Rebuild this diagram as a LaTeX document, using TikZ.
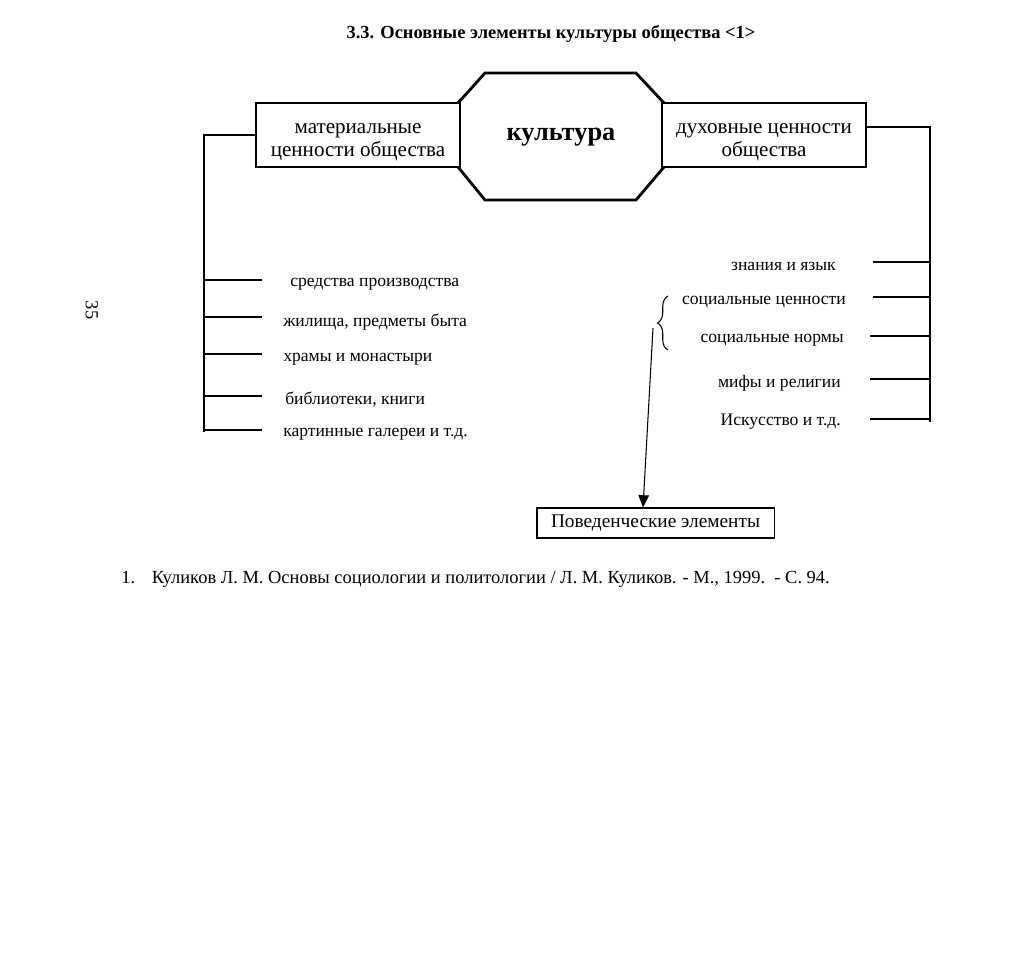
\documentclass[tikz,border=0pt]{standalone}
\usepackage{fontspec}
\setmainfont{Liberation Serif}
\usetikzlibrary{arrows.meta,decorations.pathreplacing}
\tikzset{
  bigbox/.style={draw, line width=1.6pt, minimum width=4.08cm, minimum height=1.28cm, inner sep=1pt, align=center, font=\fontsize{12}{13.5}\selectfont},
  item/.style={inner sep=1pt, font=\fontsize{10}{12}\selectfont},
  thin/.style={line width=0.6pt}
}
\begin{document}
\begin{tikzpicture}[x=0.02cm, y=-0.02cm, line width=0.6pt]
  \useasboundingbox (0,0) rectangle (1020,958);
  \node[font=\bfseries\fontsize{10.5}{12}\selectfont] (title) at (551,34) {3.3. Основные элементы культуры общества <1>};
  \node[rotate=-90, font=\fontsize{10.5}{12}\selectfont] (page) at (92,310) {35};
  % central octagon
  \draw[line width=1.6pt] (485,73) -- (636,73) -- (664,103) -- (664,167) -- (636,200) -- (485,200) -- (458,167) -- (458,103) -- cycle;
  \node[font=\bfseries\fontsize{15}{17}\selectfont] (kult) at (561,137) {культура};
  \node[bigbox, fill=white] (matl) at (358,135) {\rule{0pt}{14pt}материальные\\ценности общества};
  \node[bigbox, fill=white] (duh) at (764,135) {\rule{0pt}{14pt}духовные ценности\\общества};
  % left list
  \coordinate (lbot) at (204,432);
  \draw (matl.west) -| (lbot);
  \foreach \y in {280,317,354,396,430}
    \draw (204,\y) -- ++(58,0);
  \node[item, anchor=west] (m1) at (288,284) {средства производства};
  \node[item, anchor=west] (m2) at (281,322) {жилища, предметы быта};
  \node[item, anchor=west] (m3) at (281,359) {храмы и монастыри};
  \node[item, anchor=west] (m4) at (283,400) {библиотеки, книги};
  \node[item, anchor=west] (m5) at (281,434) {картинные галереи и т.д.};
  % right list
  \coordinate (rbot) at (930,422);
  \draw ([yshift=0.16cm]duh.east) -| (rbot);
  \foreach \y/\x in {262/873,297/873,336/870,379/870,419/870}
    \draw (930,\y) -- (\x,\y);
  \node[item, anchor=east] (d1) at (838,266) {знания и язык};
  \node[item, anchor=east] (d2) at (848,302) {социальные ценности};
  \node[item, anchor=east] (d3) at (846,340) {социальные нормы};
  \node[item, anchor=east] (d4) at (843,383) {мифы и религии};
  \node[item, anchor=east] (d5) at (843,422) {Искусство и т.д.};
  \draw[decorate, decoration={brace, amplitude=6pt}] (668,350) -- (668,296);
  \coordinate (btip) at (653,328);
  % behaviour
  \node[draw, thin, inner xsep=8pt, minimum height=0.6cm, font=\fontsize{11}{12}\selectfont] (beh) at (655.5,523) {Поведенческие элементы};
  \draw[-{Triangle[width=6pt,length=7pt]}] (btip) -- ([xshift=-0.25cm]beh.north);
  % footnote
  \node[anchor=west, font=\fontsize{10.5}{12}\selectfont] (fn) at (115,579) {1.\hspace{0.9em}Куликов Л. М. Основы социологии и политологии / Л. М. Куликов. - М., 1999.\ \ - С. 94.};
\end{tikzpicture}
\end{document}
